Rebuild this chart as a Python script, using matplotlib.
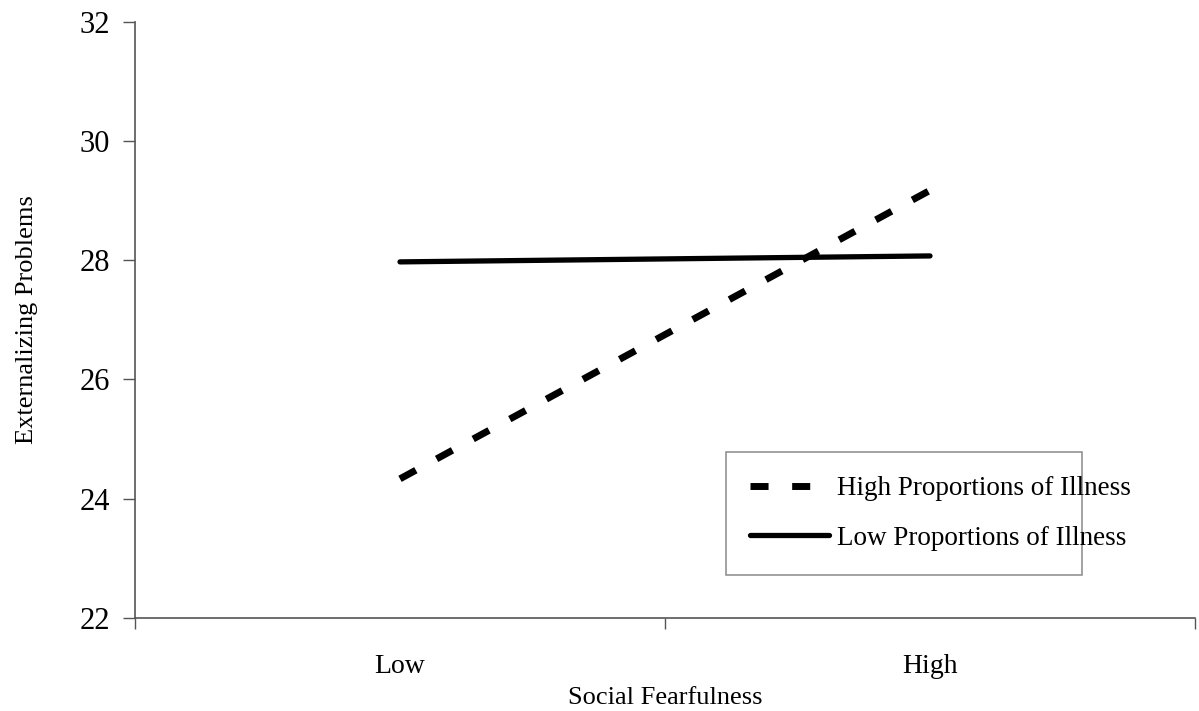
import matplotlib
matplotlib.use("Agg")
import matplotlib.pyplot as plt
from matplotlib.ticker import FixedLocator, NullFormatter, FixedFormatter

categories = ["Low", "High"]
high_illness = [24.33, 29.17]
low_illness = [27.97, 28.07]
y_ticks = [22, 24, 26, 28, 30, 32]

plt.rcParams["font.family"] = ["Liberation Serif", "DejaVu Serif"]

fig = plt.figure(figsize=(11.99, 7.11), dpi=100)
ax = fig.add_axes([135 / 1199, 1 - 617.7 / 711, 1060 / 1199, 596 / 711])

x = list(range(len(categories)))
ax.plot(x, high_illness, color="black", lw=5, linestyle=(0, (2.6, 3.4)),
        dash_capstyle="butt", label="High Proportions of Illness")
ax.plot(x, low_illness, color="black", lw=3.8, solid_capstyle="round",
        label="Low Proportions of Illness")

ax.set_xlim(-0.5, len(categories) - 0.5)
ax.set_ylim(y_ticks[0], y_ticks[-1])
ax.set_yticks(y_ticks)

# category boundaries carry the tick marks; labels sit at the centres
ax.xaxis.set_major_locator(FixedLocator([i - 0.5 for i in range(len(categories) + 1)]))
ax.xaxis.set_major_formatter(NullFormatter())
ax.xaxis.set_minor_locator(FixedLocator(x))
ax.xaxis.set_minor_formatter(FixedFormatter(categories))
ax.tick_params(axis="x", which="major", length=8, width=1, color="#555555")
ax.tick_params(axis="x", which="minor", length=0, pad=26, labelsize=20)
ax.tick_params(axis="y", length=9, width=1, color="#555555", labelsize=22, pad=9)

for side in ("top", "right"):
    ax.spines[side].set_visible(False)
for side in ("left", "bottom"):
    ax.spines[side].set_color("#555555")
    ax.spines[side].set_linewidth(1.2)

ax.set_xlabel("Social Fearfulness", fontsize=19, labelpad=6)
ax.set_ylabel("Externalizing Problems", fontsize=19, labelpad=30)

leg = ax.legend(loc="lower left", bbox_to_anchor=((726 - 135) / 1060, (617.7 - 575) / 596,
                                                  (1082 - 726) / 1060, (575 - 454) / 596),
                mode="expand", fontsize=19.5, frameon=True, fancybox=False,
                handlelength=2.9, handletextpad=0.3, borderpad=0.9, labelspacing=0.9,
                borderaxespad=0)
leg.get_frame().set_edgecolor("#777777")
leg.get_frame().set_linewidth(1.2)

fig.savefig("out.png", dpi=100)
